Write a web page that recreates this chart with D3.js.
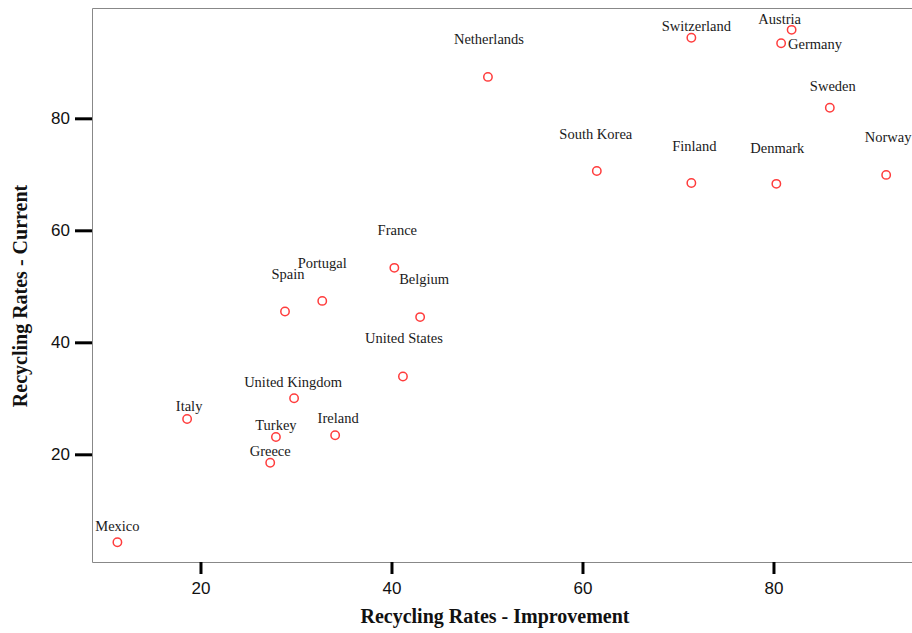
<!DOCTYPE html>
<html><head><meta charset="utf-8">
<script src="https://cdn.jsdelivr.net/npm/d3@7"></script>
<style>body{margin:0;background:#fff}svg{display:block}</style>
</head><body>
<svg id="c" width="912" height="633"></svg>
<script>
const countries = ["Mexico","Italy","Greece","Turkey","Ireland","United Kingdom","United States","Spain","Portugal","France","Belgium","Netherlands","South Korea","Finland","Denmark","Norway","Sweden","Switzerland","Austria","Germany"];
const improvement = [11.3,18.6,27.3,27.9,34.1,29.8,41.2,28.85,32.75,40.3,43.0,50.1,61.5,71.4,80.3,91.8,85.9,71.4,81.9,80.8];
const current = [4.3,26.3,18.5,23.1,23.4,30.0,33.9,45.5,47.4,53.3,44.5,87.4,70.6,68.45,68.3,69.9,81.9,94.4,95.8,93.4];
const xTicks = [20,40,60,80];
const yTicks = [20,40,60,80];

// label placement (pixel offsets from point: dx, dy to baseline, anchor)
const labelPlace = {
  "Mexico":[0,-11,"middle"],"Italy":[2,-8,"middle"],"Greece":[0,-7,"middle"],"Turkey":[0,-7,"middle"],
  "Ireland":[3,-12,"middle"],"United Kingdom":[-1,-11,"middle"],"United States":[1,-33,"middle"],
  "Spain":[3,-33,"middle"],"Portugal":[0,-33,"middle"],"France":[3,-33,"middle"],"Belgium":[4,-33,"middle"],
  "Netherlands":[1,-33,"middle"],"South Korea":[-1,-32,"middle"],"Finland":[3,-32,"middle"],
  "Denmark":[1,-31,"middle"],"Norway":[2,-33,"middle"],"Sweden":[3,-17,"middle"],
  "Switzerland":[5,-7,"middle"],"Austria":[-12,-6,"middle"],"Germany":[7,6,"start"]
};

const L=92, R=911, T=8, B=562;
const x = d3.scaleLinear().domain([8.64,94.4]).range([L,R]);
const y = d3.scaleLinear().domain([0.77,99.7]).range([B,T]);
const svg = d3.select("#c");

// frame (left, top, bottom; right edge runs off the image)
svg.append("path").attr("d",`M${L+0.5},${B+0.5}V${T+0.5}H913M${L+0.5},${B+0.5}H913`)
  .attr("fill","none").attr("stroke","#888").attr("stroke-width",1);

// x axis
const xa = svg.append("g").attr("transform",`translate(0,${B})`)
  .call(d3.axisBottom(x).tickValues(xTicks).tickSize(12).tickPadding(8).tickFormat(d3.format("d")));
xa.select(".domain").remove();
xa.selectAll(".tick line").attr("stroke","#000").attr("stroke-width",3);
xa.selectAll(".tick text").attr("font-family","'Liberation Sans',Arial,sans-serif").attr("font-size",17).attr("fill","#111");

// y axis
const ya = svg.append("g").attr("transform",`translate(${L},0)`)
  .call(d3.axisLeft(y).tickValues(yTicks).tickSize(17).tickPadding(5).tickFormat(d3.format("d")));
ya.select(".domain").remove();
ya.selectAll(".tick line").attr("stroke","#000").attr("stroke-width",3);
ya.selectAll(".tick text").attr("font-family","'Liberation Sans',Arial,sans-serif").attr("font-size",17).attr("fill","#111");

// axis titles
svg.append("text").attr("x",495).attr("y",623).attr("text-anchor","middle")
  .attr("font-family","'Liberation Serif','Times New Roman',serif").attr("font-weight","bold").attr("font-size",20)
  .attr("fill","#111").text("Recycling Rates - Improvement");
svg.append("text").attr("transform","translate(27,296) rotate(-90)").attr("text-anchor","middle")
  .attr("font-family","'Liberation Serif','Times New Roman',serif").attr("font-weight","bold").attr("font-size",20)
  .attr("fill","#111").text("Recycling Rates - Current");

const data = countries.map((c,i)=>({name:c, xv:improvement[i], yv:current[i]}));

svg.append("g").selectAll("circle").data(data).join("circle")
  .attr("cx",d=>x(d.xv)).attr("cy",d=>y(d.yv)).attr("r",4.2)
  .attr("fill","none").attr("stroke","#ff3c3c").attr("stroke-width",1.5);

svg.append("g").selectAll("text").data(data).join("text")
  .attr("x",d=>x(d.xv)+labelPlace[d.name][0]).attr("y",d=>y(d.yv)+labelPlace[d.name][1])
  .attr("text-anchor",d=>labelPlace[d.name][2])
  .attr("font-family","'Liberation Serif','Times New Roman',serif").attr("font-size",14.5).attr("fill","#1a1a1a")
  .text(d=>d.name);
</script>
</body></html>
